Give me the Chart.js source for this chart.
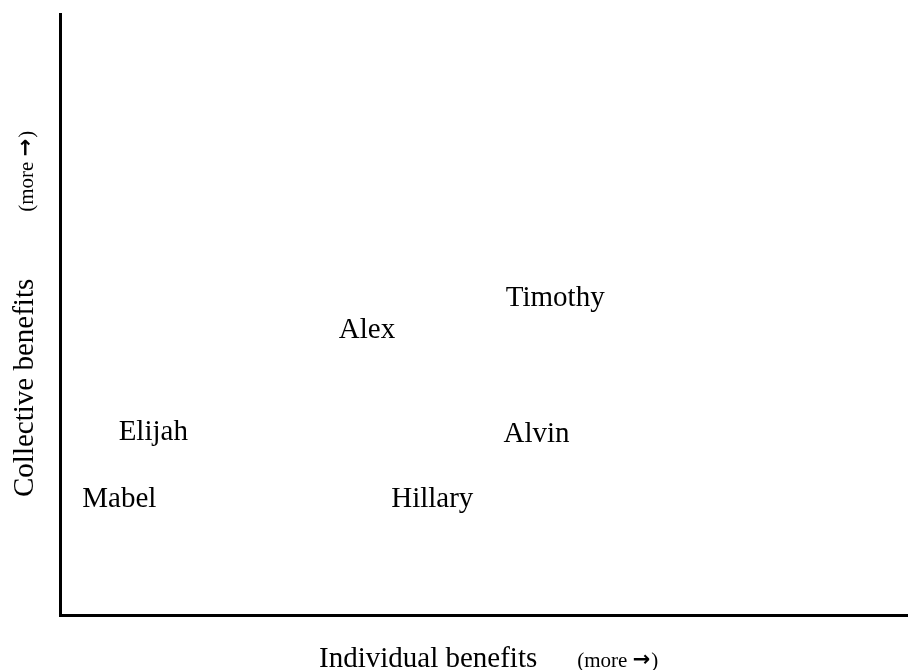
<!DOCTYPE html>
<html>
<head>
<meta charset="utf-8">
<script src="https://cdn.jsdelivr.net/npm/chart.js@4"></script>
<style>
html,body{margin:0;padding:0;background:#fff;}
#wrap{width:908px;height:670px;}
</style>
</head>
<body>
<div id="wrap"><canvas id="c" width="908" height="670"></canvas></div>
<script>
const names = ["Mabel", "Elijah", "Alex", "Timothy", "Alvin", "Hillary"];
const individual = [7.0, 11.0, 36.2, 58.4, 56.2, 43.9];
const collective = [19.3, 30.4, 47.3, 52.7, 30.1, 19.3];
const xTitle = ["Individual benefits", "(more ", "\u2192", ")"];
const yTitle = ["Collective benefits", "(more ", "\u2192", ")"];

const points = names.map((n, i) => ({x: individual[i], y: collective[i], label: n}));

const SERIF = '"Liberation Serif", "Times New Roman", serif';
const big = '29px ' + SERIF;
const small = '21px ' + SERIF;
const arrowFont = 'bold 21px "DejaVu Sans"';

function drawTitle(ctx, parts, startPos, gap) {
  let pos = startPos;
  ctx.font = big;
  ctx.fillText(parts[0], pos, 0);
  pos += ctx.measureText(parts[0]).width + gap;
  ctx.font = small;
  ctx.fillText(parts[1], pos, 0);
  pos += ctx.measureText(parts[1]).width;
  ctx.font = arrowFont;
  ctx.fillText(parts[2], pos, -1);
  pos += ctx.measureText(parts[2]).width + 1;
  ctx.font = small;
  ctx.fillText(parts[3], pos, 0);
}

const labelPlugin = {
  id: 'labels',
  afterDatasetsDraw(chart) {
    const ctx = chart.ctx;
    const xs = chart.scales.x, ys = chart.scales.y;
    ctx.save();
    ctx.fillStyle = '#000';
    ctx.font = big;
    ctx.textAlign = 'center';
    ctx.textBaseline = 'middle';
    points.forEach(p => {
      ctx.fillText(p.label, xs.getPixelForValue(p.x), ys.getPixelForValue(p.y));
    });
    ctx.restore();
  },
  afterDraw(chart) {
    const ctx = chart.ctx;
    const ca = chart.chartArea;
    ctx.save();
    ctx.fillStyle = '#000';
    ctx.textBaseline = 'alphabetic';
    ctx.textAlign = 'left';
    ctx.save();
    ctx.translate(0, ca.bottom + 52);
    drawTitle(ctx, xTitle, 319, 40);
    ctx.restore();
    ctx.save();
    ctx.translate(33, 497);
    ctx.rotate(-Math.PI / 2);
    drawTitle(ctx, yTitle, 0, 67);
    ctx.restore();
    ctx.restore();
  }
};

new Chart(document.getElementById('c'), {
  type: 'scatter',
  data: {
    datasets: [{
      data: points,
      pointRadius: 0,
      pointHoverRadius: 0,
      showLine: false
    }]
  },
  options: {
    responsive: false,
    animation: false,
    events: [],
    layout: {padding: {left: 60, top: 14, right: 0, bottom: 55}},
    plugins: {legend: {display: false}, tooltip: {enabled: false}, title: {display: false}},
    scales: {
      x: {
        type: 'linear', min: 0, max: 100,
        grid: {display: false, drawTicks: false},
        ticks: {display: false},
        border: {display: true, color: '#000', width: 3}
      },
      y: {
        type: 'linear', min: 0, max: 100,
        grid: {display: false, drawTicks: false},
        ticks: {display: false},
        border: {display: true, color: '#000', width: 3}
      }
    }
  },
  plugins: [labelPlugin]
});
</script>
</body>
</html>
